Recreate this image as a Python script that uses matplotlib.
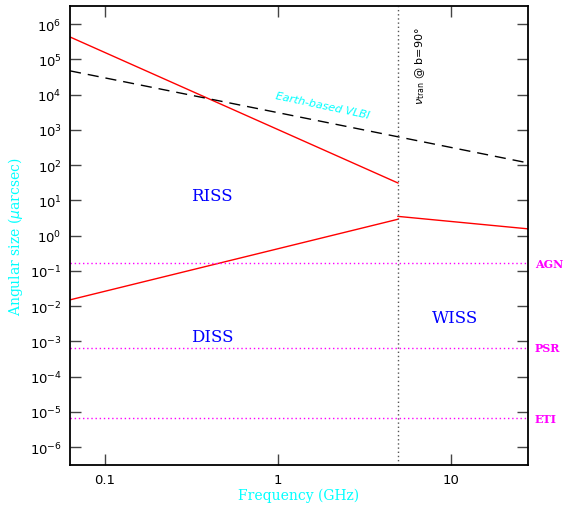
import matplotlib
matplotlib.use("Agg")
import matplotlib.pyplot as plt
import numpy as np

# ── Data ────────────────────────────────────────────────────
riss_freq = [0.0628, 4.94]
riss_size = [4.3e5, 31.0]
diss_freq = [0.0628, 4.94]
diss_size = [0.015, 2.9]
wiss_freq = [4.94, 27.9]
wiss_size = [3.5, 1.55]
vlbi_freq = [0.0628, 27.9]
vlbi_size = [4.7e4, 115.0]
nu_tran = 4.94
source_names = ["AGN", "PSR", "ETI"]
source_sizes = [0.165, 6.6e-4, 6.6e-6]

y_ticks = [10.0 ** k for k in range(-6, 7)]
y_labels = [rf"$10^{{{k}}}$" for k in range(-6, 7)]
x_ticks = [0.1, 1, 10]
x_labels = ["0.1", "1", "10"]

CYAN = "#00FFFF"
MAGENTA = "#FF00FF"
RED = "#FF0000"
BLUE = "#0000FF"

fig = plt.figure(figsize=(5.67, 5.06), dpi=100)
ax = fig.add_axes([0.1235, 0.079, 0.8077, 0.907])
ax.set_xscale("log")
ax.set_yscale("log")
ax.set_xlim(0.0628, 27.9)
ax.set_ylim(10 ** -6.51, 10 ** 6.51)

ax.plot(riss_freq, riss_size, color=RED, lw=1.0)
ax.plot(diss_freq, diss_size, color=RED, lw=1.0)
ax.plot(wiss_freq, wiss_size, color=RED, lw=1.0)
ax.plot(vlbi_freq, vlbi_size, color="black", lw=1.0, dashes=(8, 5))
ax.axvline(nu_tran, color="#555555", lw=1.0, ls=(0, (1, 2)))
for name, s in zip(source_names, source_sizes):
    ax.axhline(s, color=MAGENTA, lw=1.0, ls=(0, (1, 2)))
    ax.text(1.015, s, name, transform=ax.get_yaxis_transform(),
            color=MAGENTA, fontsize=8, family="DejaVu Serif",
            weight="bold", ha="left", va="center")

# region labels
ax.text(0.416, 14, "RISS", color=BLUE, fontsize=12, family="DejaVu Serif",
        ha="center", va="center")
ax.text(0.416, 1.4e-3, "DISS", color=BLUE, fontsize=12, family="DejaVu Serif",
        ha="center", va="center")
ax.text(10.5, 4.6e-3, "WISS", color=BLUE, fontsize=12, family="DejaVu Serif",
        ha="center", va="center")
ax.text(1.82, 5100, "Earth-based VLBI", color=CYAN, fontsize=8,
        style="italic", rotation=-12, ha="center", va="center")
ax.text(6.6, 7.0e4, r"$\nu_{\rm tran}$ @ b=90°", color="black", fontsize=8,
        rotation=90, ha="center", va="center")

ax.set_xticks(x_ticks)
ax.set_xticklabels(x_labels)
ax.set_yticks(y_ticks)
ax.set_yticklabels(y_labels)
ax.minorticks_off()
ax.tick_params(which="major", direction="in", length=8, width=1.0,
               color="#444444", top=True, right=True, labelsize=9.5, pad=6)
for sp in ax.spines.values():
    sp.set_linewidth(1.3)

ax.set_xlabel("Frequency (GHz)", color=CYAN, fontsize=10,
              family="DejaVu Serif", labelpad=1)
ax.set_ylabel(r"Angular size ($\mu$arcsec)", color=CYAN, fontsize=10,
              family="DejaVu Serif", labelpad=3)

fig.savefig("out.png", dpi=100)
